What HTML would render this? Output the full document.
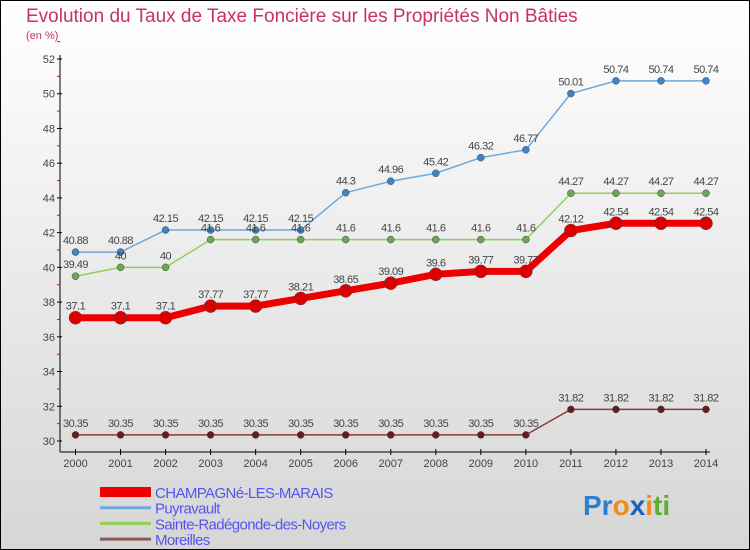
<!DOCTYPE html>
<html><head><meta charset="utf-8"><style>
body{margin:0}
#c{width:750px;height:550px;position:relative;box-sizing:border-box;border:1px solid #000;background:linear-gradient(#fff,#d6d6d6);font-family:"Liberation Sans",sans-serif;overflow:hidden}
</style></head><body>
<div id="c">
<svg id="s" width="750" height="550" style="position:absolute;left:-1px;top:-1px">
<text x="26" y="22" font-size="19" fill="#c8325f">Evolution du Taux de Taxe Foncière sur les Propriétés Non Bâties</text>
<text x="26" y="39" font-size="11" fill="#c8325f">(en %)</text>
<g id="g"></g>
<text x="583" y="515" font-size="28" font-weight="bold"><tspan fill="#2a7fd0">Pr</tspan><tspan fill="#f08a1c">o</tspan><tspan fill="#1f5fc0">x</tspan><tspan fill="#f08a1c">i</tspan><tspan fill="#5cb030">ti</tspan></text>
</svg>
</div>
<script>
const years=[2000,2001,2002,2003,2004,2005,2006,2007,2008,2009,2010,2011,2012,2013,2014];
const yTicks=[30,32,34,36,38,40,42,44,46,48,50,52];
const champagne=[37.1,37.1,37.1,37.77,37.77,38.21,38.65,39.09,39.6,39.77,39.77,42.12,42.54,42.54,42.54];
const puyravault=[40.88,40.88,42.15,42.15,42.15,42.15,44.3,44.96,45.42,46.32,46.77,50.01,50.74,50.74,50.74];
const sainte=[39.49,40,40,41.6,41.6,41.6,41.6,41.6,41.6,41.6,41.6,44.27,44.27,44.27,44.27];
const moreilles=[30.35,30.35,30.35,30.35,30.35,30.35,30.35,30.35,30.35,30.35,30.35,31.82,31.82,31.82,31.82];
const names=["CHAMPAGNé-LES-MARAIS","Puyravault","Sainte-Radégonde-des-Noyers","Moreilles"];
const NS="http://www.w3.org/2000/svg";
const g=document.getElementById('g');
const X=i=>75.5+i*(630.5/14);
const Y=v=>441-(v-30)*(382/22);
function mk(t,a,p){const e=document.createElementNS(NS,t);for(const k in a)e.setAttribute(k,a[k]);(p||g).appendChild(e);return e;}
let ax=mk('line',{x1:60,y1:55,x2:60,y2:452,stroke:'#000'});


let bx=mk('line',{x1:60,y1:452,x2:710,y2:452,stroke:'#000'});


yTicks.forEach(v=>{mk('line',{x1:57,x2:62,y1:Y(v),y2:Y(v),stroke:'#000'});
 mk('line',{x1:57,x2:60,y1:Y(v+1),y2:Y(v+1),stroke:'#e00'});
 const t=mk('text',{x:55,y:Y(v)+4,'font-size':11,'text-anchor':'end',fill:'#444'});t.textContent=v;
 
 });
years.forEach((yr,i)=>{mk('line',{x1:X(i),x2:X(i),y1:449,y2:455,stroke:'#000'});
 const t=mk('text',{x:X(i),y:467,'font-size':11,'text-anchor':'middle',fill:'#444'});t.textContent=yr;
 
 });
const series=[[puyravault,'#6fa8dc','#3d85c6',1.5,3.5],[sainte,'#93d050','#6aa84f',1.5,3.5],[moreilles,'#8a3a3a','#661c1c',1.5,3.5],[champagne,'#e00','#d00',7,6.5]];
series.forEach(([d,c,pc,w,r],si)=>{
 const l=mk('polyline',{points:d.map((v,i)=>X(i)+','+Y(v)).join(' '),fill:'none',stroke:c,'stroke-width':w});
 
 
 d.forEach((v,i)=>{const p=mk('circle',{cx:X(i),cy:Y(v),r:r,fill:pc,stroke:'#444','stroke-width':0.5});
  
  
  const t=mk('text',{x:X(i),y:Y(v)-8,'font-size':11,'text-anchor':'middle',fill:'#444','letter-spacing':'-0.5'});t.textContent=v;
  
  });
});
const lc=['#e00','#6fa8dc','#93d050','#8a5a5a'],lw=[10,3,3,3];
names.forEach((n,i)=>{const y=492+i*15.7;
 const l=mk('line',{x1:100,x2:151,y1:y,y2:y,stroke:lc[i],'stroke-width':lw[i]});
 
 
 const t=mk('text',{x:155,y:y+6,'font-size':15,fill:'#5555ee','letter-spacing':'-0.6'});t.textContent=n;
 
 });
</script>
</body></html>
